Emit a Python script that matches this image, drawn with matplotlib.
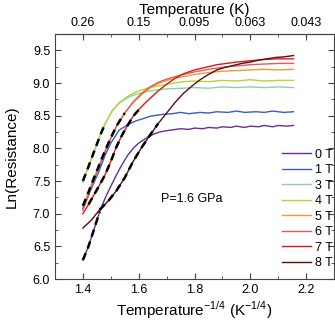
import numpy as np
import matplotlib
matplotlib.use('Agg')
import matplotlib.pyplot as plt
from matplotlib.ticker import MultipleLocator

plt.rcParams['font.family'] = ['Liberation Sans', 'DejaVu Sans']
plt.rcParams['mathtext.fontset'] = 'custom'
plt.rcParams['mathtext.rm'] = 'Liberation Sans'

# values: x = T^-1/4, y = ln(R)
x_0T = [1.40, 1.42, 1.44, 1.46, 1.48, 1.50, 1.52, 1.54, 1.56, 1.58, 1.60, 1.625, 1.65, 1.675, 1.70,
        1.75, 1.78, 1.80, 1.83, 1.85, 1.88, 1.90, 1.93, 1.95, 1.98, 2.00, 2.03, 2.05, 2.08, 2.10,
        2.13, 2.155]
y_0T = [6.29, 6.50, 6.76, 7.03, 7.24, 7.42, 7.59, 7.75, 7.89, 8.00, 8.08, 8.15, 8.21, 8.25, 8.27,
        8.30, 8.29, 8.31, 8.30, 8.32, 8.31, 8.33, 8.32, 8.34, 8.32, 8.34, 8.33, 8.35, 8.33, 8.35,
        8.34, 8.35]

x_1T = [1.40, 1.42, 1.44, 1.455, 1.48, 1.50, 1.53, 1.565, 1.59, 1.613, 1.64, 1.685, 1.72, 1.75,
        1.78, 1.82, 1.85, 1.88, 1.92, 1.95, 1.98, 2.02, 2.05, 2.08, 2.12, 2.155]
y_1T = [7.08, 7.28, 7.48, 7.62, 7.90, 8.08, 8.28, 8.37, 8.42, 8.45, 8.49, 8.52, 8.53, 8.55,
        8.53, 8.55, 8.54, 8.56, 8.55, 8.57, 8.55, 8.56, 8.55, 8.57, 8.55, 8.56]

x_3T = [1.40, 1.42, 1.44, 1.465, 1.48, 1.506, 1.53, 1.566, 1.60, 1.64, 1.70, 1.76, 1.80, 1.85,
        1.90, 1.95, 2.00, 2.05, 2.10, 2.155]
y_3T = [7.48, 7.72, 7.95, 8.23, 8.38, 8.58, 8.69, 8.79, 8.84, 8.88, 8.91, 8.92, 8.93, 8.92,
        8.94, 8.93, 8.94, 8.93, 8.94, 8.93]

x_4T = [1.40, 1.42, 1.44, 1.465, 1.48, 1.506, 1.53, 1.566, 1.60, 1.64, 1.70, 1.76, 1.80, 1.85,
        1.90, 1.95, 2.00, 2.05, 2.10, 2.155]
y_4T = [7.50, 7.72, 7.95, 8.23, 8.38, 8.58, 8.70, 8.81, 8.88, 8.93, 8.98, 9.02, 9.03, 9.02,
        9.04, 9.03, 9.05, 9.03, 9.04, 9.04]

x_5T = [1.40, 1.42, 1.44, 1.46, 1.48, 1.50, 1.52, 1.55, 1.58, 1.61, 1.64, 1.67, 1.70, 1.75, 1.80,
        1.85, 1.90, 1.95, 2.00, 2.05, 2.10, 2.155]
y_5T = [7.12, 7.33, 7.55, 7.76, 7.97, 8.16, 8.34, 8.54, 8.70, 8.82, 8.92, 8.99, 9.04, 9.09, 9.13,
        9.16, 9.18, 9.19, 9.20, 9.21, 9.20, 9.21]

x_6T = [1.40, 1.42, 1.44, 1.46, 1.48, 1.50, 1.52, 1.55, 1.58, 1.61, 1.64, 1.67, 1.70, 1.75, 1.80,
        1.85, 1.90, 1.95, 2.00, 2.05, 2.10, 2.155]
y_6T = [7.05, 7.28, 7.52, 7.74, 7.95, 8.15, 8.33, 8.54, 8.71, 8.84, 8.94, 9.01, 9.06, 9.12, 9.17,
        9.21, 9.24, 9.26, 9.28, 9.29, 9.30, 9.30]

x_7T = [1.40, 1.42, 1.44, 1.46, 1.48, 1.50, 1.52, 1.54, 1.56, 1.58, 1.60, 1.62, 1.64, 1.67, 1.70,
        1.73, 1.76, 1.80, 1.85, 1.88, 1.95, 2.00, 2.05, 2.10, 2.155]
y_7T = [7.00, 7.14, 7.29, 7.44, 7.60, 7.80, 8.02, 8.20, 8.35, 8.49, 8.59, 8.68, 8.76, 8.88, 8.98,
        9.07, 9.14, 9.20, 9.25, 9.28, 9.32, 9.34, 9.36, 9.37, 9.37]

x_8T = [1.40, 1.43, 1.46, 1.49, 1.52, 1.55, 1.58, 1.61, 1.64, 1.67, 1.70, 1.73, 1.76, 1.79, 1.82,
        1.85, 1.88, 1.91, 1.94, 1.97, 2.00, 2.03, 2.06, 2.09, 2.12, 2.155]
y_8T = [6.78, 6.90, 7.06, 7.19, 7.35, 7.55, 7.80, 8.01, 8.20, 8.38, 8.54, 8.70, 8.84, 8.95, 9.05,
        9.13, 9.20, 9.24, 9.27, 9.30, 9.32, 9.35, 9.37, 9.39, 9.40, 9.42]

labels = ['0 T', '1 T', '3 T', '4 T', '5 T', '6 T', '7 T', '8 T']
colors = ['#6b2c91', '#3b5bc4', '#8ed1a6', '#b3d43a', '#f29a2e', '#e55a5a', '#d7191c', '#5c0d0d']
xs = [x_0T, x_1T, x_3T, x_4T, x_5T, x_6T, x_7T, x_8T]
ys = [y_0T, y_1T, y_3T, y_4T, y_5T, y_6T, y_7T, y_8T]

# ranges covered by the dashed fits (index into the curves above)
fit_ranges = {0: (1.40, 1.47), 3: (1.40, 1.48), 4: (1.40, 1.55), 6: (1.42, 1.60), 7: (1.46, 1.69)}

top_ticks = [1.4, 1.6, 1.8, 2.0, 2.2]
top_labels = ['0.26', '0.15', '0.095', '0.063', '0.043']

fig = plt.figure(figsize=(3.35, 3.24), dpi=100)
ax = fig.add_axes([55 / 335, 1 - 279 / 324, 279 / 335, 245 / 324])

for x, y, c, lab in zip(xs, ys, colors, labels):
    ax.plot(x, y, color=c, lw=1.0, label=lab)

for i, (a, b) in fit_ranges.items():
    x = np.array(xs[i])
    y = np.array(ys[i])
    m = (x >= a) & (x <= b)
    ax.plot(x[m], y[m], color='black', lw=1.8, dashes=(3, 2))

ax.set_xlim(1.3, 2.3)
ax.set_ylim(6.0, 9.75)
ax.xaxis.set_major_locator(MultipleLocator(0.2))
ax.xaxis.set_minor_locator(MultipleLocator(0.1))
ax.yaxis.set_major_locator(MultipleLocator(0.5))
ax.yaxis.set_minor_locator(MultipleLocator(0.25))
ax.tick_params(which='both', direction='in', right=True, labelsize=9, color='#444444')
ax.tick_params(which='major', length=4)
ax.tick_params(which='minor', length=2.5)
for s in ax.spines.values():
    s.set_color('#444444')

ax.set_xlabel('Temperature$^{-1/4}$ (K$^{-1/4}$)', fontsize=11, labelpad=2.5)
ax.set_ylabel('Ln(Resistance)', fontsize=11, labelpad=10)

sec = ax.secondary_xaxis('top')
sec.set_xticks(top_ticks)
sec.set_xticklabels(top_labels)
sec.xaxis.set_minor_locator(MultipleLocator(0.1))
sec.tick_params(which='both', direction='in', labelsize=9, color='#444444')
sec.tick_params(which='major', length=4)
sec.tick_params(which='minor', length=2.5)
sec.spines['top'].set_color('#444444')
sec.set_xlabel('Temperature (K)', fontsize=11, labelpad=2.5)

ax.text(1.68, 7.22, 'P=1.6 GPa', fontsize=9, va='center')

ax.legend(loc='lower right', bbox_to_anchor=(1.0, 0.035), frameon=False, fontsize=9,
          handlelength=2.3, handletextpad=0.35, labelspacing=0.28, borderaxespad=0.0,
          borderpad=0.1)

fig.savefig('out.png', dpi=100)
